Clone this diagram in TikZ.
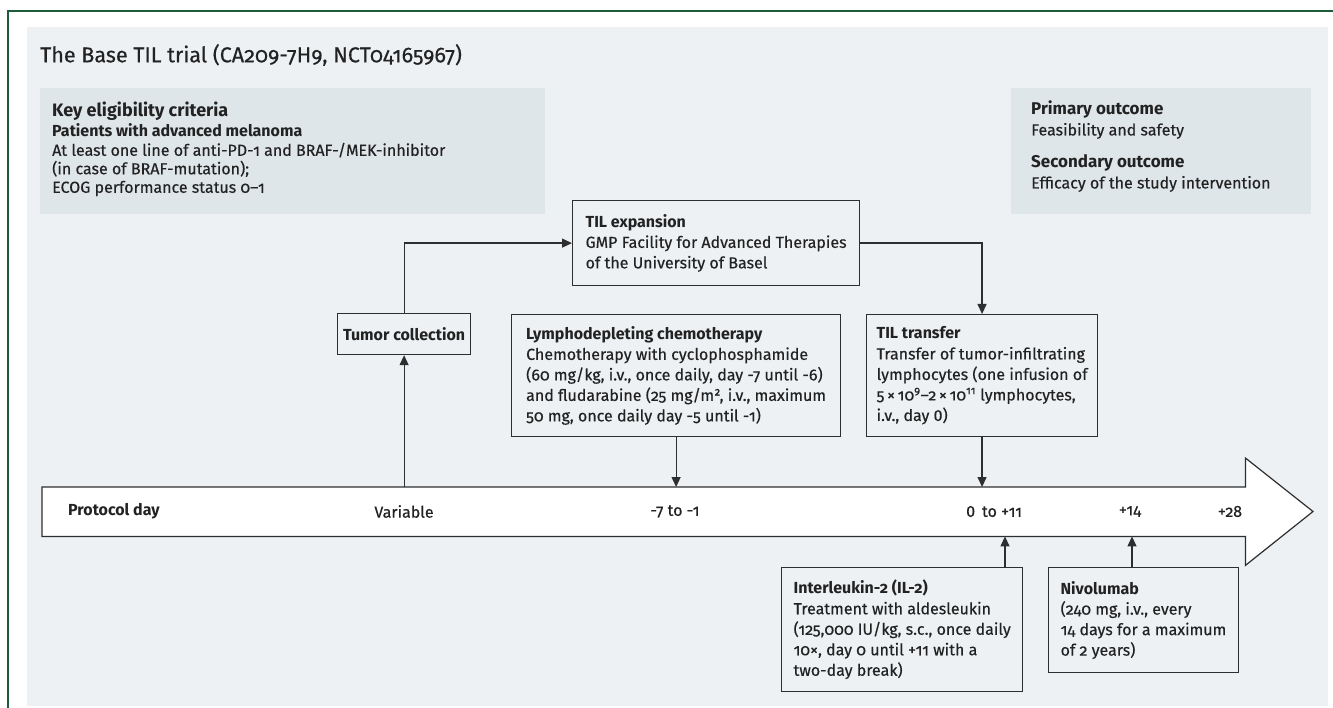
\documentclass[tikz,border=0pt]{standalone}
\usepackage{fontspec}
\setmainfont{Fira Sans}[Numbers=OldStyle, UprightFeatures={FakeBold=0.35}]
\usetikzlibrary{arrows.meta,calc}
\definecolor{framegreen}{HTML}{1D5C3B}
\definecolor{panelbg}{HTML}{EDF1F4}
\definecolor{infobg}{HTML}{DFE6EA}
\definecolor{linecol}{HTML}{2E2E2E}
\definecolor{txt}{HTML}{222222}
\newcommand{\lin}[1]{{\addfontfeature{Numbers=Lining}#1}}
\begin{document}
\begin{tikzpicture}[x=1pt,y=-1pt,
  every node/.style={text=txt, font=\fontsize{16}{20.5}\selectfont},
  stepbox/.style={draw=linecol, line width=1.2pt, fill=panelbg, align=left, inner xsep=12pt, inner ysep=0pt, anchor=north west},
  infobox/.style={fill=infobg, draw=none, anchor=north west},
  lbl/.style={inner sep=0pt},
  conn/.style={draw=linecol, line width=1.2pt, -{Triangle[length=10pt,width=9pt]}},
  plain/.style={draw=linecol, line width=1.2pt}
]
\useasboundingbox (0,0) rectangle (1333,708);
\fill[white] (0,0) rectangle (1333,708);
% panel
\fill[panelbg] (27,27) rectangle (1328,706);
% frame
\draw[framegreen, line width=2.5pt] (1333,11) -- (8,11) -- (8,708);

% title
\node[lbl, anchor=west, font=\fontsize{21.5}{26}\selectfont] (title) at (40,55) {The Base TIL trial (CA209-7H9, NCT04165967)};

% eligibility
\node[infobox, minimum width=505pt, minimum height=126pt] (elig) at (40,88) {};
\node[lbl, anchor=north west, align=left] (eligtxt) at (52,102)
  {{\fontsize{18}{21}\selectfont\bfseries Key eligibility criteria}\\[-1pt]
   {\bfseries Patients with advanced melanoma}\\[-1pt]
   At least one line of anti-PD-1 and BRAF-/MEK-inhibitor\\[-2pt]
   (in case of BRAF-mutation);\\[-2pt]
   ECOG performance status 0–1};

% outcomes
\node[infobox, minimum width=300pt, minimum height=126pt] (outc) at (1011,88) {};
\node[lbl, anchor=north west, align=left] (outctxt) at (1031,101)
  {{\fontsize{17}{20.5}\selectfont\bfseries Primary outcome}\\
   Feasibility and safety\\[12pt]
   {\fontsize{17}{20.5}\selectfont\bfseries Secondary outcome}\\
   Efficacy of the study intervention};

% step boxes
\node[stepbox, minimum width=287pt, minimum height=85pt] (tilexp) at (572,200)
  {{\bfseries TIL expansion}\\GMP Facility for Advanced Therapies\\of the University of Basel};
\node[stepbox, minimum width=133pt, minimum height=41pt, align=center, inner xsep=4pt] (tumor) at (337,313)
  {\bfseries Tumor collection};
\node[stepbox, minimum width=329pt, minimum height=122pt] (lymph) at (511,314)
  {{\bfseries Lymphodepleting chemotherapy}\\
   Chemotherapy with cyclophosphamide\\
   (60 mg/kg, i.v., once daily, day -7 until -6)\\
   and fludarabine (25 mg/m², i.v., maximum\\
   50 mg, once daily day -5 until -1)};
\node[stepbox, minimum width=197pt, minimum height=122pt, inner xsep=10pt] (tiltr) at (866,314)
  {{\bfseries TIL transfer}\\
   Transfer of tumor-infiltrating\\
   lymphocytes (one infusion of\\
   5\,×\,10\textsuperscript{9}–2\,×\,10\textsuperscript{11} lymphocytes,\\
   i.v., day \lin{0})};
\node[stepbox, minimum width=238pt, minimum height=124pt] (il2) at (781,567)
  {{\bfseries Interleukin-2 (IL-2)}\\
   Treatment with aldesleukin\\
   (125,000 IU/kg, s.c., once daily\\
   10×, day 0 until +11 with a\\
   two-day break)};
\node[stepbox, minimum width=189pt, minimum height=105pt] (nivo) at (1048,567)
  {{\bfseries Nivolumab}\\
   (240 mg, i.v., every\\
   14 days for a maximum\\
   of 2 years)};

% timeline
\node[draw=none, minimum width=1203pt, minimum height=49pt, inner sep=0pt, anchor=north west] (tl) at (42,487) {};
\draw[plain, fill=white] (tl.north west) -- (tl.north east) -- ++(0,-29) -- (1313,511.5) -- ($(tl.south east)+(0,29)$) -- (tl.south east) -- (tl.south west) -- cycle;
\node[lbl, anchor=west, font=\fontsize{16}{20}\selectfont\bfseries] (pday) at (68,511.5) {Protocol day};
\node[lbl] (dvar) at (404,511.5) {Variable};
\node[lbl] (dlym) at (675,511.5) {-7 to -1};
\node[lbl, anchor=west] (dtil) at (966,511.5) {\lin{0}\, to +11};
\node[lbl] (d14) at (1130,511.5) {+14};
\node[lbl] (d28) at (1230,511.5) {+28};

% connectors
\draw[conn] (tl.north -| tumor.south) -- (tumor.south);
\draw[conn] (tumor.north) |- (tilexp.west);
\draw[conn] (tilexp.east) -| (tiltr.north);
\draw[conn] (lymph.south) -- (lymph.south |- tl.north);
\draw[conn] (tiltr.south) -- (tiltr.south |- tl.north);
\draw[conn] (il2.north -| 1005,0) -- (tl.south -| 1005,0);
\draw[conn] (nivo.north -| 1132,0) -- (tl.south -| 1132,0);
\end{tikzpicture}
\end{document}
